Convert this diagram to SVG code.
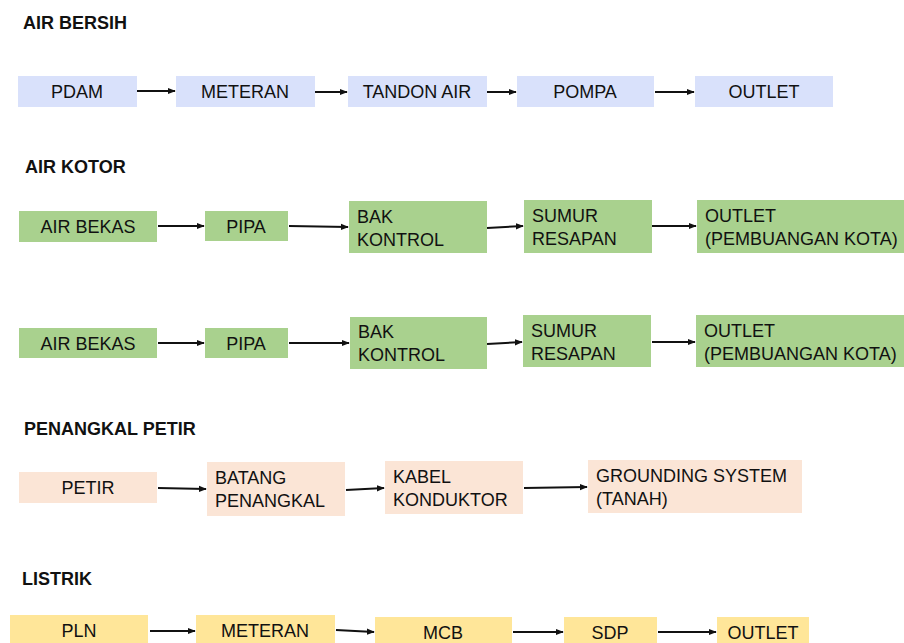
<svg xmlns="http://www.w3.org/2000/svg" width="904" height="643" viewBox="0 0 904 643">
<defs>
<marker id="ah" viewBox="0 0 10 10" refX="9" refY="5" markerWidth="4" markerHeight="4" orient="auto" markerUnits="strokeWidth">
<path d="M0,1 L10,5 L0,9 z" fill="#111"/>
</marker>
<style>
text{font-family:"Liberation Sans",Arial,sans-serif;font-size:18px;fill:#111}
.t{font-weight:bold;font-size:18px}
.c{text-anchor:middle}
.b{fill:#d9e1fb}
.g{fill:#a9d18e}
.p{fill:#fbe5d6}
.y{fill:#ffe699}
.a{stroke:#111;stroke-width:2;fill:none;marker-end:url(#ah)}
</style>
</defs>
<rect width="904" height="643" fill="#fff"/>
<text class="t" x="23" y="29">AIR BERSIH</text>
<text class="t" x="25" y="173">AIR KOTOR</text>
<text class="t" x="24" y="435">PENANGKAL PETIR</text>
<text class="t" x="22" y="585">LISTRIK</text>

<g id="ab1"><rect class="b" x="18" y="76" width="119" height="31"/><text class="c" x="77" y="98">PDAM</text></g>
<g id="ab2"><rect class="b" x="176" y="76" width="139" height="31"/><text class="c" x="245" y="98">METERAN</text></g>
<g id="ab3"><rect class="b" x="348" y="76" width="139" height="31"/><text class="c" x="417" y="98">TANDON AIR</text></g>
<g id="ab4"><rect class="b" x="517" y="76" width="137" height="31"/><text class="c" x="585" y="98">POMPA</text></g>
<g id="ab5"><rect class="b" x="695" y="76" width="138" height="31"/><text class="c" x="764" y="98">OUTLET</text></g>

<g id="ak1"><rect class="g" x="19" y="211" width="138" height="31"/><text class="c" x="88" y="233">AIR BEKAS</text></g>
<g id="ak2"><rect class="g" x="205" y="211" width="83" height="30"/><text class="c" x="246" y="233">PIPA</text></g>
<g id="ak3"><rect class="g" x="349" y="201" width="138" height="52"/><text x="357" y="223">BAK</text><text x="357" y="246">KONTROL</text></g>
<g id="ak4"><rect class="g" x="524" y="200" width="128" height="53"/><text x="532" y="222">SUMUR</text><text x="532" y="245">RESAPAN</text></g>
<g id="ak5"><rect class="g" x="697" y="200" width="207" height="53"/><text x="705" y="222">OUTLET</text><text x="705" y="245">(PEMBUANGAN KOTA)</text></g>

<g id="ak6"><rect class="g" x="19" y="328" width="138" height="30"/><text class="c" x="88" y="350">AIR BEKAS</text></g>
<g id="ak7"><rect class="g" x="205" y="328" width="83" height="30"/><text class="c" x="246" y="350">PIPA</text></g>
<g id="ak8"><rect class="g" x="350" y="317" width="137" height="52"/><text x="358" y="338">BAK</text><text x="358" y="361">KONTROL</text></g>
<g id="ak9"><rect class="g" x="523" y="315" width="128" height="52"/><text x="531" y="337">SUMUR</text><text x="531" y="360">RESAPAN</text></g>
<g id="ak10"><rect class="g" x="696" y="315" width="208" height="52"/><text x="704" y="337">OUTLET</text><text x="704" y="360">(PEMBUANGAN KOTA)</text></g>

<g id="pp1"><rect class="p" x="19" y="472" width="138" height="31"/><text class="c" x="88" y="494">PETIR</text></g>
<g id="pp2"><rect class="p" x="207" y="462" width="138" height="54"/><text x="215" y="484">BATANG</text><text x="215" y="507">PENANGKAL</text></g>
<g id="pp3"><rect class="p" x="385" y="461" width="138" height="53"/><text x="393" y="483">KABEL</text><text x="393" y="506">KONDUKTOR</text></g>
<g id="pp4"><rect class="p" x="588" y="460" width="214" height="53"/><text x="596" y="482">GROUNDING SYSTEM</text><text x="596" y="505">(TANAH)</text></g>

<g id="ls1"><rect class="y" x="10" y="615" width="138" height="30"/><text class="c" x="79" y="637">PLN</text></g>
<g id="ls2"><rect class="y" x="196" y="615" width="139" height="30"/><text class="c" x="265" y="637">METERAN</text></g>
<g id="ls3"><rect class="y" x="375" y="617" width="137" height="28"/><text class="c" x="443" y="639">MCB</text></g>
<g id="ls4"><rect class="y" x="564" y="617" width="93" height="28"/><text class="c" x="610" y="639">SDP</text></g>
<g id="ls5"><rect class="y" x="717" y="617" width="92" height="28"/><text class="c" x="763" y="639">OUTLET</text></g>

<g id="connectors">
<line class="a" x1="137" y1="91" x2="175" y2="91"/>
<line class="a" x1="315" y1="92" x2="347" y2="92"/>
<line class="a" x1="487" y1="92" x2="516" y2="92"/>
<line class="a" x1="655" y1="92" x2="694" y2="92"/>

<line class="a" x1="158" y1="226" x2="204" y2="226"/>
<line class="a" x1="289" y1="226" x2="348" y2="227"/>
<line class="a" x1="487" y1="228" x2="523" y2="226"/>
<line class="a" x1="652" y1="226" x2="696" y2="226"/>

<line class="a" x1="158" y1="343" x2="204" y2="343"/>
<line class="a" x1="289" y1="343" x2="349" y2="343"/>
<line class="a" x1="487" y1="344" x2="522" y2="342"/>
<line class="a" x1="652" y1="342" x2="695" y2="342"/>

<line class="a" x1="158" y1="488" x2="206" y2="489"/>
<line class="a" x1="346" y1="490" x2="384" y2="488"/>
<line class="a" x1="524" y1="488" x2="587" y2="487"/>

<line class="a" x1="150" y1="631" x2="195" y2="631"/>
<line class="a" x1="336" y1="630" x2="374" y2="632"/>
<line class="a" x1="513" y1="632" x2="563" y2="632"/>
<line class="a" x1="658" y1="632" x2="716" y2="632"/>
</g>
</svg>
